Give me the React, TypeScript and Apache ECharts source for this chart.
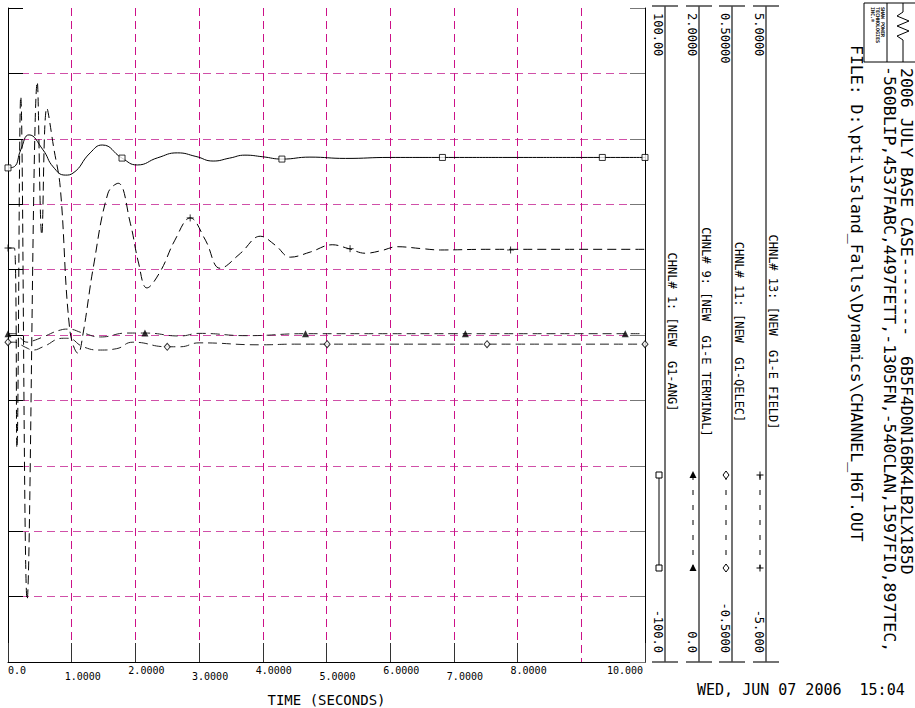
import React, { useEffect, useRef } from 'react';
import * as echarts from 'echarts';

const FONT = "'DejaVu Sans Mono', 'Liberation Mono', monospace";

const xTickLabels = ['0.0', '1.0000', '2.0000', '3.0000', '4.0000', '5.0000', '6.0000', '7.0000', '8.0000', '9.0000', '10.000'];

// CHNL# 1 : G1-ANG (scale -100 .. 100)
const angTime = [0, 0.1, 0.2, 0.33, 0.55, 0.71, 0.9, 1.02, 1.29, 1.48, 1.79, 2.03, 2.35, 2.66, 2.95, 3.22, 3.48, 3.72, 4.0, 4.3, 4.74, 5.3, 6.0, 7.0, 8.0, 9.0, 10.0];
const angValue = [51.1, 51.5, 56.6, 61.2, 56.6, 51.4, 48.9, 49.5, 55.7, 58.1, 54.1, 52.0, 54.2, 55.7, 54.6, 53.2, 54.1, 55.0, 54.5, 53.8, 54.4, 54.0, 54.3, 54.3, 54.3, 54.3, 54.3];
const angMarkTime = [0, 1.79, 4.3, 6.82, 9.33, 10.0];
const angMarkValue = [51.1, 54.1, 53.8, 54.3, 54.3, 54.3];

// CHNL# 9 : G1-E TERMINAL (scale 0 .. 2)
const etTime = [0, 0.1, 0.2, 0.3, 0.39, 0.55, 0.82, 0.94, 1.18, 1.45, 1.87, 2.15, 2.7, 3.0, 3.75, 4.67, 6.0, 7.0, 8.0, 9.0, 10.0];
const etValue = [1.004, 1.004, 0.99, 0.978, 0.982, 0.994, 1.015, 1.018, 1.006, 0.994, 1.006, 1.006, 0.997, 1.005, 0.998, 1.004, 1.004, 1.004, 1.004, 1.004, 1.004];
const etMarkTime = [0, 2.15, 4.67, 7.18, 9.69];
const etMarkValue = [1.004, 1.006, 1.004, 1.004, 1.004];

// CHNL# 11 : G1-QELEC (scale -0.5 .. 0.5)
const qTime = [0, 0.1, 0.2, 0.3, 0.39, 0.55, 0.87, 0.94, 1.18, 1.45, 1.7, 1.96, 2.5, 2.7, 3.0, 3.96, 4.5, 5.0, 6.0, 7.0, 8.0, 9.0, 10.0];
const qValue = [-0.011, -0.011, -0.015, -0.02, -0.023, -0.018, -0.005, -0.005, -0.018, -0.023, -0.021, -0.011, -0.018, -0.018, -0.012, -0.015, -0.014, -0.014, -0.014, -0.014, -0.014, -0.014, -0.014];
const qMarkTime = [0, 2.5, 5.01, 7.52, 10.0];
const qMarkValue = [-0.011, -0.018, -0.014, -0.014, -0.014];

// CHNL# 13 : G1-E FIELD (scale -5 .. 5)
const efdTime = [0, 0.1, 0.14, 0.2, 0.3, 0.46, 0.53, 0.61, 0.72, 0.82, 0.97, 1.1, 1.18, 1.34, 1.57, 1.73, 1.92, 2.05, 2.18, 2.39, 2.62, 2.86, 3.1, 3.33, 3.65, 3.96, 4.2, 4.43, 4.75, 5.09, 5.35, 5.61, 5.86, 6.11, 6.5, 6.79, 7.5, 8.0, 9.0, 10.0];
const efdValue = [1.33, 1.33, -1.73, 3.65, -4.05, 3.87, 1.53, 3.47, 2.85, 2.26, 0.08, -0.28, 0.03, 1.04, 2.17, 2.32, 1.71, 1.1, 0.72, 0.97, 1.45, 1.79, 1.45, 1.02, 1.25, 1.51, 1.37, 1.19, 1.27, 1.38, 1.32, 1.25, 1.29, 1.35, 1.32, 1.3, 1.31, 1.31, 1.31, 1.31];
const efdMarkTime = [0, 2.86, 5.37, 7.89];
const efdMarkValue = [1.33, 1.79, 1.32, 1.3];

const channelNames = ['CHNL# 1: [NEW  G1-ANG]', 'CHNL# 9: [NEW  G1-E TERMINAL]', 'CHNL# 11: [NEW  G1-QELEC]', 'CHNL# 13: [NEW  G1-E FIELD]'];
const channelMax = ['100.00', '2.0000', '0.50000', '5.0000'];
const channelMin = ['-100.0', '0.0', '-0.5000', '-5.000'];

const titleLine1 = '2006 JULY BASE CASE--------  6B5F4D0N16BK4LB2LX185D';
const titleLine2 = '-560BLIP,4537FABC,4497FETT,-1305FN,-540CLAN,1597FIO,897TEC,';
const fileLine = 'FILE: D:\\pti\\Island_Falls\\Dynamics\\CHANNEL_H6T.OUT';
const dateLine = 'WED, JUN 07 2006  15:04';

const zip = (t: number[], v: number[]) => t.map((x, i) => [x, v[i]]);

const vtext = (x: number, y: number, text: string, size: number, align: string, extra: any = {}) => ({
  type: 'text',
  x,
  y,
  rotation: -Math.PI / 2,
  silent: true,
  style: { text, fill: '#000', fontSize: size, fontFamily: FONT, align, verticalAlign: 'middle', ...extra },
});

const line = (x1: number, y1: number, x2: number, y2: number, stroke = '#000', lineWidth = 1, lineDash?: number[]) => ({
  type: 'line',
  silent: true,
  shape: { x1, y1, x2, y2 },
  style: { stroke, lineWidth, lineDash },
});

function buildGraphic() {
  const g: any[] = [];
  const colX = [665, 699, 732, 766];
  colX.forEach((cx, i) => {
    g.push(line(cx, 6, cx, 662, '#444', 1.5));
    g.push(line(cx - 13, 6, cx + 13, 6, '#444', 1.5));
    g.push(line(cx - 13, 662, cx + 13, 662, '#444', 1.5));
    g.push(vtext(cx - 7, 13, channelMax[i], 12, 'left'));
    g.push(vtext(cx - 7, 653, channelMin[i], 12, 'right'));
    g.push(vtext(cx + 7, 332, channelNames[i], 12, 'center'));
    const sx = cx - 6;
    const y1 = 475;
    const y2 = 568;
    if (i === 0) {
      g.push(line(sx, y1, sx, y2, '#000', 1));
      [y1, y2].forEach((yy) => g.push({ type: 'rect', silent: true, shape: { x: sx - 3, y: yy - 3, width: 6, height: 6 }, style: { fill: '#fff', stroke: '#000', lineWidth: 1 } }));
    } else {
      g.push(line(sx, y1, sx, y2, '#000', 1, [5, 10]));
      [y1, y2].forEach((yy) => {
        if (i === 1) {
          g.push({ type: 'polygon', silent: true, shape: { points: [[sx, yy - 4], [sx + 3.5, yy + 3], [sx - 3.5, yy + 3]] }, style: { fill: '#000' } });
        } else if (i === 2) {
          g.push({ type: 'polygon', silent: true, shape: { points: [[sx, yy - 4], [sx + 3, yy], [sx, yy + 4], [sx - 3, yy]] }, style: { fill: '#fff', stroke: '#000', lineWidth: 1 } });
        } else {
          g.push(line(sx - 3.5, yy, sx + 3.5, yy, '#000', 1));
          g.push(line(sx, yy - 3.5, sx, yy + 3.5, '#000', 1));
        }
      });
    }
  });
  // header lines
  g.push(vtext(906, 68, titleLine1, 16.5, 'left'));
  g.push(vtext(889, 66, titleLine2, 16.5, 'left'));
  g.push(vtext(856, 45, fileLine, 16.5, 'left'));
  // date
  g.push({ type: 'text', x: 697, y: 690, silent: true, style: { text: dateLine, fill: '#000', fontSize: 15, fontFamily: FONT, align: 'left', verticalAlign: 'middle' } });
  // logo
  g.push({ type: 'rect', silent: true, shape: { x: 864, y: 3, width: 60, height: 59 }, style: { fill: 'none', stroke: '#000', lineWidth: 1 } });
  g.push(line(887, 3, 887, 62, '#000', 1));
  g.push({ type: 'polyline', silent: true, shape: { points: [[903, 3], [903, 12], [897, 16], [909, 21], [897, 26], [909, 31], [897, 36], [903, 40], [903, 62]] }, style: { stroke: '#000', lineWidth: 1, fill: 'none' } });
  g.push(vtext(883, 7, 'SHAW POWER', 5, 'left', { fontWeight: 'bold' }));
  g.push(vtext(878, 7, 'TECHNOLOGIES', 5, 'left', { fontWeight: 'bold' }));
  g.push(vtext(873, 7, 'INC.\u00AE', 5, 'left', { fontWeight: 'bold' }));
  return g;
}

const hiddenAxis = (min: number, max: number, interval: number) => ({
  type: 'value', min, max, interval, show: false,
  axisLine: { show: false }, axisTick: { show: false }, axisLabel: { show: false },
  splitLine: { show: false, lineStyle: { color: '#d050a8', type: [8, 5] } },
});

export default function App() {
  const ref = useRef<HTMLDivElement>(null);
  useEffect(() => {
    document.body.style.margin = '0';
    const chart = echarts.init(ref.current!, null, { renderer: 'svg' });
    const base = { fontFamily: FONT, fontSize: 10, color: '#000', lineHeight: 12 };
    const dashed = [9, 5];
    chart.setOption({
      animation: false,
      backgroundColor: '#fff',
      grid: { left: 8, top: 8, width: 637, height: 654, containLabel: false, outerBoundsMode: 'none' },
      xAxis: {
        type: 'value',
        min: 0,
        max: 10,
        interval: 1,
        name: 'TIME (SECONDS)',
        nameLocation: 'middle',
        nameGap: 31,
        nameTextStyle: { fontFamily: FONT, fontSize: 14, color: '#000' },
        axisLine: { show: true, onZero: false, lineStyle: { color: '#000', width: 1 } },
        axisTick: { show: true, inside: true, length: 19, lineStyle: { color: '#333' } },
        splitLine: { show: true, lineStyle: { color: '#cc1188', type: [8, 5], width: 1 } },
        axisLabel: {
          show: true,
          margin: 2,
          align: 'center',
          showMinLabel: true,
          showMaxLabel: true,
          ...base,
          formatter: (v: number) => {
            const i = Math.round(v);
            const s = xTickLabels[i] ?? '';
            if (i === 0) return `{z|${s}}`;
            if (i === 10) return `{m|${s}}`;
            return i % 2 ? `{o|${s}}` : `{e|${s}}`;
          },
          rich: {
            z: { ...base, padding: [0, 0, 0, 18] },
            e: { ...base, padding: [0, 0, 0, 22] },
            o: { ...base, padding: [12, 0, 0, 22] },
            m: { ...base, padding: [0, 40, 0, 0] },
          },
        },
      },
      yAxis: [
        {
          type: 'value', min: -100, max: 100, interval: 20, position: 'left',
          axisLine: { show: true, onZero: false, lineStyle: { color: '#000', width: 1 } },
          axisTick: { show: true, inside: true, length: 15, lineStyle: { color: '#000' } },
          axisLabel: { show: false },
          splitLine: { show: true, showMaxLine: false, showMinLine: false, lineStyle: { color: '#d050a8', type: [8, 5], width: 1 } },
        },
        {
          type: 'value', min: -100, max: 100, interval: 20, position: 'right',
          axisLine: { show: true, onZero: false, lineStyle: { color: '#000', width: 1 } },
          axisTick: { show: true, inside: true, length: 15, lineStyle: { color: '#777' } },
          axisLabel: { show: false },
          splitLine: { show: false },
        },
        hiddenAxis(0, 2, 0.2),
        hiddenAxis(-0.5, 0.5, 0.1),
        hiddenAxis(-5, 5, 1),
      ],
      series: [
        { type: 'line', yAxisIndex: 0, data: zip(angTime, angValue), smooth: 0.5, symbol: 'none', lineStyle: { color: '#000', width: 1 }, z: 3 },
        { type: 'line', yAxisIndex: 2, data: zip(etTime, etValue), smooth: 0.5, symbol: 'none', lineStyle: { color: '#222', width: 1, type: dashed }, z: 3 },
        { type: 'line', yAxisIndex: 3, data: zip(qTime, qValue), smooth: 0.5, symbol: 'none', lineStyle: { color: '#222', width: 1, type: dashed }, z: 3 },
        { type: 'line', yAxisIndex: 4, data: zip(efdTime, efdValue), smooth: 0.4, symbol: 'none', lineStyle: { color: '#000', width: 1, type: dashed }, z: 3 },
        { type: 'scatter', yAxisIndex: 0, data: zip(angMarkTime, angMarkValue), symbol: 'rect', symbolSize: 6, itemStyle: { color: '#fff', borderColor: '#000', borderWidth: 1 }, z: 4 },
        { type: 'scatter', yAxisIndex: 2, data: zip(etMarkTime, etMarkValue), symbol: 'triangle', symbolSize: 7, itemStyle: { color: '#000' }, z: 4 },
        { type: 'scatter', yAxisIndex: 3, data: zip(qMarkTime, qMarkValue), symbol: 'diamond', symbolSize: [6, 7], itemStyle: { color: '#fff', borderColor: '#000', borderWidth: 1 }, z: 4 },
        { type: 'scatter', yAxisIndex: 4, data: zip(efdMarkTime, efdMarkValue), symbol: 'path://M5,0L5,10M0,5L10,5', symbolSize: 7, itemStyle: { color: 'none', borderColor: '#000', borderWidth: 1 }, z: 4 },
      ],
      graphic: buildGraphic(),
    });
    return () => chart.dispose();
  }, []);
  return <div ref={ref} style={{ position: 'fixed', left: 0, top: 0, width: 915, height: 708, background: '#fff' }} />;
}
